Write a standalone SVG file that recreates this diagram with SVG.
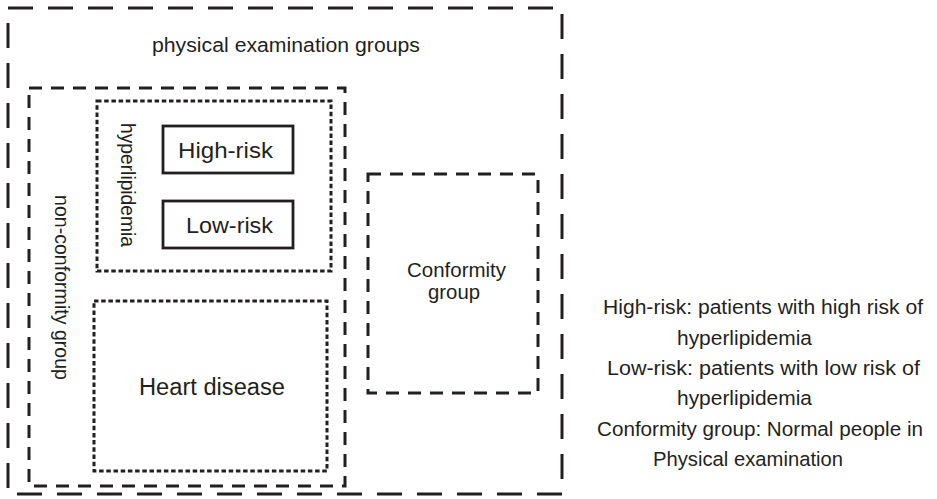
<svg xmlns="http://www.w3.org/2000/svg" width="937" height="499" viewBox="0 0 937 499">
  <style>
    .t { font-family: "Liberation Sans", Arial, sans-serif; fill: #231f20; }
    .box { fill: none; stroke: #231f20; }
    .outer { stroke-width: 3; stroke-dasharray: 25 15; }
    .mid { stroke-width: 3; stroke-dasharray: 13 9; }
    .dot { stroke-width: 3; stroke-dasharray: 4.5 2.7; }
    .solid { stroke-width: 2.8; }
  </style>
  <rect width="937" height="499" fill="#ffffff"/>

  <g id="physical-examination-groups">
    <rect class="box outer" x="8" y="8" width="554" height="486"/>
    <text class="t" x="152" y="52" font-size="20" textLength="268" lengthAdjust="spacingAndGlyphs">physical examination groups</text>
  </g>

  <g id="non-conformity-group">
    <rect class="box mid" x="29" y="88" width="316" height="398"/>
    <text class="t" font-size="20" transform="translate(55 195) rotate(90)" textLength="185" lengthAdjust="spacingAndGlyphs">non-conformity group</text>
  </g>

  <g id="hyperlipidemia">
    <rect class="box dot" x="97" y="101" width="234" height="170"/>
    <text class="t" font-size="19.5" transform="translate(121 123) rotate(90)" textLength="124" lengthAdjust="spacingAndGlyphs">hyperlipidemia</text>
  </g>

  <g id="high-risk">
    <rect class="box solid" x="163" y="126" width="130" height="47"/>
    <text class="t" x="178" y="158" font-size="21.5" textLength="95" lengthAdjust="spacingAndGlyphs">High-risk</text>
  </g>

  <g id="low-risk">
    <rect class="box solid" x="163" y="201" width="130" height="47"/>
    <text class="t" x="186" y="233" font-size="21.5" textLength="87" lengthAdjust="spacingAndGlyphs">Low-risk</text>
  </g>

  <g id="heart-disease">
    <rect class="box dot" x="94" y="301" width="233" height="170"/>
    <text class="t" x="139" y="395" font-size="23" textLength="146" lengthAdjust="spacingAndGlyphs">Heart disease</text>
  </g>

  <g id="conformity-group">
    <rect class="box mid" x="368" y="174" width="170" height="219"/>
    <text class="t" x="407" y="277" font-size="21" textLength="99" lengthAdjust="spacingAndGlyphs">Conformity</text>
    <text class="t" x="428" y="299" font-size="21" textLength="52" lengthAdjust="spacingAndGlyphs">group</text>
  </g>

  <g id="connectors"></g>

  <g id="legend" font-size="20.5">
    <text class="t" x="603" y="314" textLength="320" lengthAdjust="spacingAndGlyphs">High-risk: patients with high risk of</text>
    <text class="t" x="677" y="345" textLength="135" lengthAdjust="spacingAndGlyphs">hyperlipidemia</text>
    <text class="t" x="607" y="375" textLength="313" lengthAdjust="spacingAndGlyphs">Low-risk: patients with low risk of</text>
    <text class="t" x="677" y="405" textLength="135" lengthAdjust="spacingAndGlyphs">hyperlipidemia</text>
    <text class="t" x="597" y="436" textLength="326" lengthAdjust="spacingAndGlyphs">Conformity group: Normal people in</text>
    <text class="t" x="653" y="466" textLength="190" lengthAdjust="spacingAndGlyphs">Physical examination</text>
  </g>
</svg>
